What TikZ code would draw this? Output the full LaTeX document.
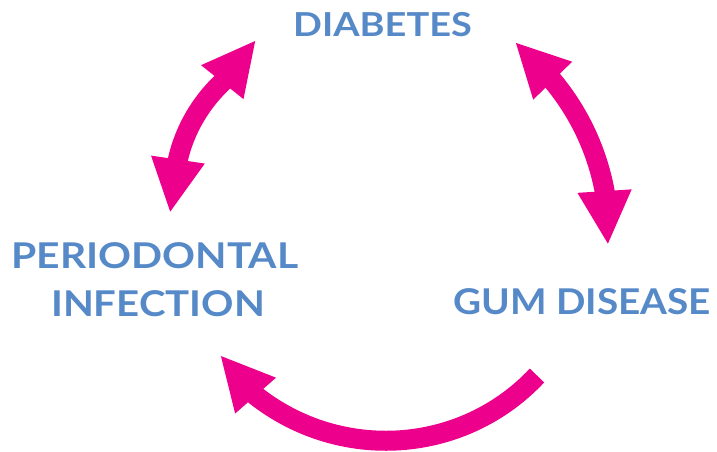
\documentclass[tikz,border=0pt]{standalone}
\usepackage{fontspec}
\setmainfont{Lato}
\usetikzlibrary{arrows.meta}
\definecolor{mag}{RGB}{236,0,140}
\definecolor{txt}{RGB}{86,137,199}
\begin{document}
\begin{tikzpicture}[x=1pt,y=-1pt,
  lbl/.style={inner sep=0pt, anchor=base, text=txt, font=\bfseries\fontsize{35.5}{36}\selectfont},
  cycarrow/.style={draw=mag, line width=20pt, line join=round, line cap=butt},
  bothtips/.style={{Triangle[length=54pt,width=50pt]}-{Triangle[length=54pt,width=50pt]}},
  endtip/.style={-{Triangle[length=54pt,width=50pt]}}]
\useasboundingbox (0,0) rectangle (717,452);

% labels
\node[lbl, font=\bfseries\fontsize{33}{34}\selectfont, xscale=1.15] (diab) at (382.5,37) {DIABETES};
\node[lbl, xscale=1.15] (perio) at (155,268) {PERIODONTAL};
\node[lbl, xscale=1.13] (infec) at (158,316) {INFECTION};
\node[lbl, xscale=1.09] (gum) at (582,314) {GUM DISEASE};

% left arrow
\coordinate (lt1) at (170,213);
\coordinate (lb1) at (178,159);
\coordinate (lc1) at (184.8,129.8);
\coordinate (lc2) at (200.3,103.2);
\coordinate (lb2) at (222,82.5);
\coordinate (lt2) at (256,40);
\draw[cycarrow, bothtips] (lt1) -- (lb1) .. controls (lc1) and (lc2) .. (lb2) -- (lt2);

% right arrow
\coordinate (rt1) at (515,42);
\coordinate (rb1) at (552.5,80.5);
\coordinate (rc1) at (578.9,112.2);
\coordinate (rc2) at (596.8,150);
\coordinate (rb2) at (604.5,190.5);
\coordinate (rt2) at (608,245);
\draw[cycarrow, bothtips] (rt1) -- (rb1) .. controls (rc1) and (rc2) .. (rb2) -- (rt2);

% bottom arrow
\coordinate (bs) at (537,375.5);
\coordinate (bc1) at (462.8,454.5);
\coordinate (bc2) at (340.7,462.5);
\coordinate (bb) at (255.5,395.5);
\coordinate (bt) at (220,355);
\draw[cycarrow, endtip] (bs) .. controls (bc1) and (bc2) .. (bb) -- (bt);
\end{tikzpicture}
\end{document}
